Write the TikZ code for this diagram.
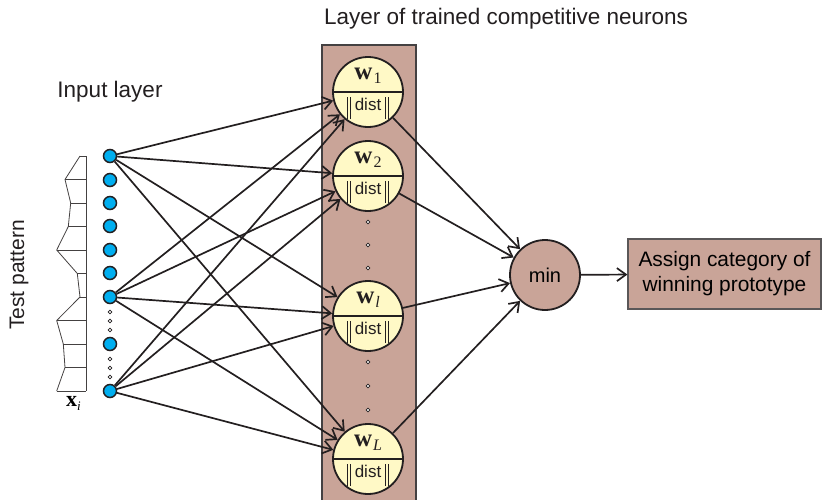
\documentclass[tikz,border=0pt]{standalone}
\usepackage{fontspec}
\setmainfont{Liberation Sans}
\newfontfamily\serifbf{Liberation Serif}
\usetikzlibrary{arrows.meta}
\definecolor{ink}{RGB}{35,31,32}
\definecolor{clay}{RGB}{201,164,152}
\definecolor{cream}{RGB}{255,249,198}
\definecolor{cyanin}{RGB}{0,174,239}
% weight vector symbol: bold w with a subscript
\newcommand\wsym[1]{{\serifbf\bfseries\fontsize{25}{25}\selectfont w}\hspace{1pt}\raisebox{-4pt}{\serifbf\fontsize{16}{16}\selectfont #1}}
% norm bars round the word "dist"
\newcommand\normbar{\rule[-9pt]{1pt}{22pt}\hspace{1.8pt}\rule[-9pt]{1pt}{22pt}}
\newcommand\distlab{{\fontsize{17}{17}\selectfont\normbar\hspace{3.5pt}dist\hspace{3.5pt}\normbar}}
\begin{document}
\begin{tikzpicture}[x=1pt,y=-1pt,
  lab/.style={font=\fontsize{22.5}{26}\selectfont, text=ink, inner sep=0pt},
  inpt/.style={circle, draw=ink, fill=cyanin, line width=1.5pt, minimum size=13pt, inner sep=0pt},
  neuron/.style={circle, draw=ink, fill=cream, line width=1.8pt, minimum size=70pt, inner sep=0pt},
  minnode/.style={circle, draw=ink, fill=clay, line width=1.8pt, minimum size=70pt, inner sep=0pt, font=\fontsize{20}{22}\selectfont},
  outbox/.style={rectangle, draw=ink!75, fill=clay, line width=1.2pt, minimum width=193pt, minimum height=70pt, inner sep=0pt, align=center, font=\fontsize{20.9}{25}\selectfont},
  arr/.style={draw=ink, line width=1.7pt, -{Straight Barb[length=9pt,width=13pt,line width=1.7pt]}},
  smalldot/.style={draw=ink, fill=white, line width=0.8pt},
  pattern/.style={draw=ink!85, line width=0.8pt}
]
\useasboundingbox (0,0) rectangle (822,499);

% column holding the competitive layer
\fill[clay] (322,45) rectangle (416,502);
\draw[ink!85, line width=1.2pt] (322,502) -- (322,45) -- (416,45) -- (416,502);

% labels
\node[lab] at (506,19) {Layer of trained competitive neurons};
\node[lab] at (110,92) {Input layer};
\node[lab, rotate=90, font=\fontsize{21}{24}\selectfont] at (19,275) {Test pattern};
\node[inner sep=0pt, anchor=base west] at (66,406) {{\serifbf\bfseries\fontsize{22}{22}\selectfont x}\raisebox{-4pt}{\serifbf\itshape\fontsize{13}{13}\selectfont i}};

% test pattern profile
\draw[pattern] (86,156) -- (86,391);
\foreach \k/\px in {0/80,1/65,2/70.7,3/68.3,4/56.7,5/77.3,6/80,7/56.7,8/63.3,9/65,10/56.7}
  \draw[pattern] (\px,156+23.5*\k) -- (86,156+23.5*\k);
\draw[pattern] (80,156) -- (65,179.5) -- (70.7,203) -- (68.3,226.5) -- (56.7,250) -- (77.3,273.5)
  -- (80,297) -- (56.7,320.5) -- (63.3,344) -- (65,367.5) -- (56.7,391);

% input neurons
\foreach \n/\yy in {1/156,2/180,3/203,4/226,5/250,6/273,7/297,8/344,9/391}
  \node[inpt] (i\n) at (110,\yy) {};
\foreach \yy in {312,321,330,359,368,377}
  \draw[smalldot] (110,\yy) circle (1.9pt);

% competitive neurons
\foreach \nm/\yy/\sub in {w1/92/1, w2/176/2, wl/316/{\itshape l}, wL/459/{\itshape L}} {
  \node[neuron] (\nm) at (368,\yy) {};
  \draw[ink, line width=1.1pt] (\nm.west) -- (\nm.east);
  \node[inner sep=0pt, anchor=base, text=ink] at ([yshift=13pt]\nm.center) {\wsym{\sub}};
  \node[inner sep=0pt, anchor=base, text=ink] at ([yshift=-18pt]\nm.center) {\distlab};
}
\foreach \yy in {222,245,268,362,386,410}
  \draw[smalldot] (368,\yy) circle (1.9pt);

% decision stage
\node[minnode] (min) at (545,275) {min};
\node[outbox] (out) at (724.5,274) {Assign category of\\winning prototype};

% connections
\foreach \s in {i1,i7,i9}
  \foreach \t in {w1,w2,wl,wL}
    \draw[arr] (\s) -- (\t);
\foreach \t in {w1,w2,wl,wL}
  \draw[arr] (\t) -- (min);
\draw[arr] (min) -- (out);
\end{tikzpicture}
\end{document}
